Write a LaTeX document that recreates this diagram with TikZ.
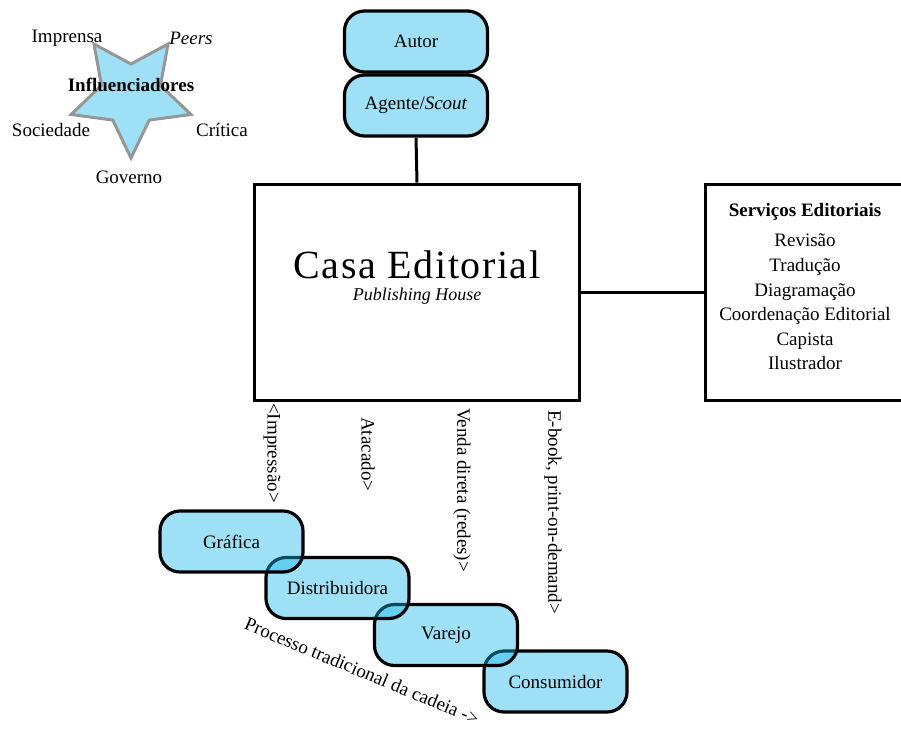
\documentclass[tikz,border=0pt]{standalone}
\usepackage{fontspec}
\setmainfont{Liberation Serif}
\begin{document}
\definecolor{boxblue}{RGB}{20,182,235}
\definecolor{stargray}{RGB}{150,150,150}
\begin{tikzpicture}[x=1pt,y=-1pt,
  txt/.style={font=\fontsize{19}{23}\selectfont, inner sep=0pt},
  pill/.style={draw=black, line width=3.2pt, rounded corners=20pt,
    fill=boxblue, fill opacity=0.41, text opacity=1,
    minimum width=143pt, minimum height=61pt, inner sep=0pt,
    font=\fontsize{19}{23}\selectfont},
  frame/.style={draw=black, line width=3pt, inner sep=0pt},
  link/.style={draw=black, line width=3pt},
  vlabel/.style={txt, rotate=-90, anchor=west}]
\useasboundingbox (0,0) rectangle (901,729);
\clip (0,0) rectangle (901,729);

% influencers star
\draw[fill=boxblue, fill opacity=0.41, draw=stargray, line width=3pt,
      line join=miter, shift={(131,95)}]
  (90:63) -- (126:31) -- (162:63) -- (198:31) -- (234:63) -- (270:31)
  -- (306:63) -- (342:31) -- (18:63) -- (54:31) -- cycle;
\node[txt, font=\fontsize{19}{23}\selectfont\bfseries] (infl) at (131,85) {Influenciadores};
\node[txt] (imprensa) at (67,38) {Imprensa};
\node[txt] (peers) at (191,38) {\itshape Peers};
\node[txt] (sociedade) at (51,130) {Sociedade};
\node[txt] (critica) at (222,130) {Crítica};
\node[txt] (governo) at (129,177) {Governo};

% author chain
\node[pill] (autor) at (416,41.5) {Autor};
\node[pill] (agente) at (416,105.5) {Agente/\textit{Scout}};

% publishing house
\node[frame, minimum width=325pt, minimum height=216pt] (casa) at (417,292) {};
\node[inner sep=0pt, font=\fontsize{40}{44}\selectfont\addfontfeatures{LetterSpace=4}] (casatit) at (417,265) {Casa Editorial};
\node[txt, font=\fontsize{18}{22}\selectfont\itshape] (casasub) at (417,296) {Publishing House};

% editorial services
\node[frame, minimum width=220pt, minimum height=216pt] (serv) at (815,292) {};
\node[txt, font=\fontsize{19}{24.6}\selectfont, align=center, anchor=north] (servtxt) at (805,203)
  {\textbf{Serviços Editoriais}\\[6pt]Revisão\\Tradução\\Diagramação\\Coordenação Editorial\\Capista\\Ilustrador};

\draw[link] (agente.south) -- (casa.north);
\draw[link] (casa.east) -- (serv.west);

% channel labels
\node[vlabel] (impressao) at (272,403) {<Impressão>};
\node[vlabel] (atacado) at (368,417) {Atacado>};
\node[vlabel] (venda) at (462,408) {Venda direta (redes)>};
\node[vlabel] (ebook) at (553,410) {E-book, print-on-demand>};

% traditional chain (drawn back to front)
\node[pill] (consumidor) at (555.5,681.5) {Consumidor};
\node[pill] (varejo) at (446,635) {Varejo};
\node[pill] (distribuidora) at (337.5,588) {Distribuidora};
\node[pill] (grafica) at (231.5,541.5) {Gráfica};

\node[txt, rotate=-22.5] (processo) at (362,671) {Processo tradicional da cadeia ->};
\end{tikzpicture}
\end{document}
